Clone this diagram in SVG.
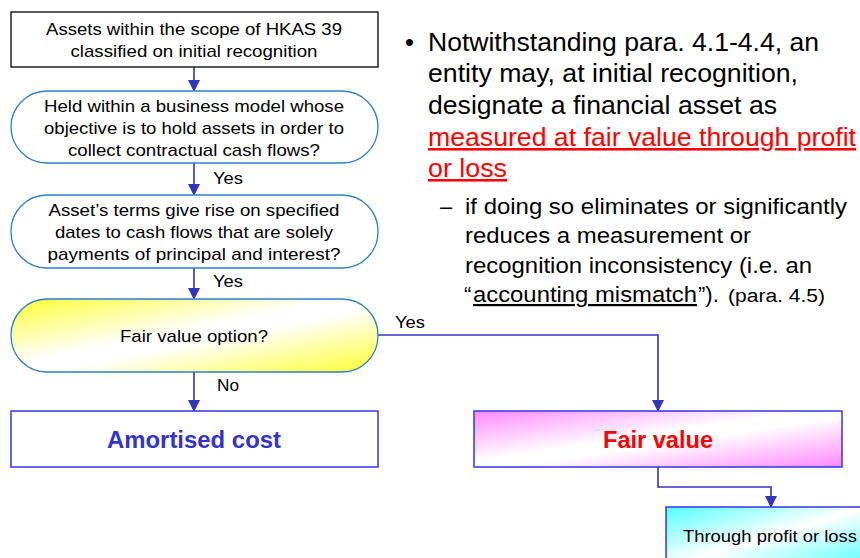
<svg xmlns="http://www.w3.org/2000/svg" width="860" height="558" viewBox="0 0 860 558">
<defs>
<style>
.t{font-family:"Liberation Sans",Arial,sans-serif;fill:#000}
.n{font-size:17px;text-anchor:middle}
.pill{fill:#fff;stroke:#2f7fc8;stroke-width:1.3}
.res{stroke:#3333ee;stroke-width:1.5}
.c{fill:none;stroke:#3333bb;stroke-width:1.6}
.lbl{font-size:17px}
.big{font-size:25.5px}
.sub{font-size:22px}
.bold{font-family:"Liberation Sans",Arial,sans-serif;font-weight:bold;font-size:23.5px;text-anchor:middle}
</style>
<marker id="ah" viewBox="0 0 12 12" refX="11" refY="6" markerWidth="12" markerHeight="12" markerUnits="userSpaceOnUse" orient="auto">
<path d="M0,0 L12,6 L0,12 z" fill="#3333bb"/>
</marker>
<linearGradient id="gy" x1="0" y1="0" x2="1" y2="1">
<stop offset="0" stop-color="#ffff33"/>
<stop offset="0.45" stop-color="#ffffff"/>
<stop offset="0.55" stop-color="#ffffff"/>
<stop offset="1" stop-color="#ffff33"/>
</linearGradient>
<linearGradient id="gp" x1="0" y1="0" x2="1" y2="1">
<stop offset="0" stop-color="#ff88ff"/>
<stop offset="0.45" stop-color="#ffffff"/>
<stop offset="0.55" stop-color="#ffffff"/>
<stop offset="1" stop-color="#ff88ff"/>
</linearGradient>
<linearGradient id="gc" x1="0" y1="0" x2="1" y2="1">
<stop offset="0" stop-color="#55ffff"/>
<stop offset="0.5" stop-color="#ffffff"/>
<stop offset="1" stop-color="#55ffff"/>
</linearGradient>
</defs>
<rect width="860" height="558" fill="#fff"/>

<g id="connectors">
<line class="c" x1="194" y1="67" x2="194" y2="91" marker-end="url(#ah)"/>
<line class="c" x1="194" y1="163" x2="194" y2="195" marker-end="url(#ah)"/>
<line class="c" x1="194" y1="268" x2="194" y2="299" marker-end="url(#ah)"/>
<line class="c" x1="194" y1="372" x2="194" y2="411" marker-end="url(#ah)"/>
<polyline class="c" points="378,335 658,335 658,411" marker-end="url(#ah)"/>
<polyline class="c" points="658,467 658,487 771,487 771,507" marker-end="url(#ah)"/>
<text class="t lbl" x="213" y="184" textLength="30" lengthAdjust="spacingAndGlyphs">Yes</text>
<text class="t lbl" x="213" y="287" textLength="30" lengthAdjust="spacingAndGlyphs">Yes</text>
<text class="t lbl" x="217" y="391" textLength="22" lengthAdjust="spacingAndGlyphs">No</text>
<text class="t lbl" x="395" y="328" textLength="30" lengthAdjust="spacingAndGlyphs">Yes</text>
</g>

<g id="start">
<rect x="11" y="12" width="367" height="55" fill="#fff" stroke="#000" stroke-width="1.3"/>
<text class="t n" x="194" y="35" textLength="296" lengthAdjust="spacingAndGlyphs">Assets within the scope of HKAS 39</text>
<text class="t n" x="194" y="57" textLength="247" lengthAdjust="spacingAndGlyphs">classified on initial recognition</text>
</g>

<g id="business-model">
<rect class="pill" x="11" y="91" width="367" height="72" rx="36"/>
<text class="t n" x="194" y="112" textLength="300" lengthAdjust="spacingAndGlyphs">Held within a business model whose</text>
<text class="t n" x="194" y="134" textLength="300" lengthAdjust="spacingAndGlyphs">objective is to hold assets in order to</text>
<text class="t n" x="194" y="156" textLength="252" lengthAdjust="spacingAndGlyphs">collect contractual cash flows?</text>
</g>

<g id="cash-flows">
<rect class="pill" x="11" y="195" width="367" height="73" rx="36"/>
<text class="t n" x="194" y="216" textLength="291" lengthAdjust="spacingAndGlyphs">Asset’s terms give rise on specified</text>
<text class="t n" x="194" y="238" textLength="278" lengthAdjust="spacingAndGlyphs">dates to cash flows that are solely</text>
<text class="t n" x="194" y="260" textLength="293" lengthAdjust="spacingAndGlyphs">payments of principal and interest?</text>
</g>

<g id="fvo">
<rect x="11" y="299" width="367" height="73" rx="36" fill="url(#gy)" stroke="#2f7fc8" stroke-width="1.3"/>
<text class="t n" x="194" y="342" textLength="148" lengthAdjust="spacingAndGlyphs">Fair value option?</text>
</g>

<g id="amortised">
<rect class="res" x="11" y="411" width="367" height="56" fill="#fff"/>
<text class="bold" x="194" y="448" fill="#3333cc" textLength="174" lengthAdjust="spacingAndGlyphs">Amortised cost</text>
</g>

<g id="fair-value">
<rect class="res" x="474" y="411" width="368" height="56" fill="url(#gp)"/>
<text class="bold" x="658" y="448" fill="#ff0000" textLength="110" lengthAdjust="spacingAndGlyphs">Fair value</text>
</g>

<g id="fvtpl">
<rect class="res" x="666" y="507" width="200" height="60" fill="url(#gc)"/>
<text class="t lbl" x="683" y="542" textLength="174" lengthAdjust="spacingAndGlyphs">Through profit or loss</text>
</g>

<g id="notes">
<text class="t big" x="405" y="51">•</text>
<text class="t big" x="428" y="51" textLength="391" lengthAdjust="spacingAndGlyphs">Notwithstanding para. 4.1-4.4, an</text>
<text class="t big" x="428" y="82" textLength="370" lengthAdjust="spacingAndGlyphs">entity may, at initial recognition,</text>
<text class="t big" x="428" y="114" textLength="349" lengthAdjust="spacingAndGlyphs">designate a financial asset as</text>
<text class="t big" x="428" y="146" style="fill:#ff0000" text-decoration="underline" textLength="428" lengthAdjust="spacingAndGlyphs">measured at fair value through profit</text>
<text class="t big" x="428" y="177" style="fill:#ff0000" text-decoration="underline" textLength="79" lengthAdjust="spacingAndGlyphs">or loss</text>
<text class="t sub" x="440" y="214">–</text>
<text class="t sub" x="465" y="214" textLength="382" lengthAdjust="spacingAndGlyphs">if doing so eliminates or significantly</text>
<text class="t sub" x="465" y="243" textLength="286" lengthAdjust="spacingAndGlyphs">reduces a measurement or</text>
<text class="t sub" x="465" y="273" textLength="347" lengthAdjust="spacingAndGlyphs">recognition inconsistency (i.e. an</text>
<text class="t sub" x="464" y="302">“</text>
<text class="t sub" x="473" y="302" text-decoration="underline" textLength="224" lengthAdjust="spacingAndGlyphs">accounting mismatch</text>
<text class="t sub" x="698" y="302">”).</text>
<text class="t" x="728" y="302" font-size="18" textLength="97" lengthAdjust="spacingAndGlyphs">(para. 4.5)</text>
</g>
</svg>
